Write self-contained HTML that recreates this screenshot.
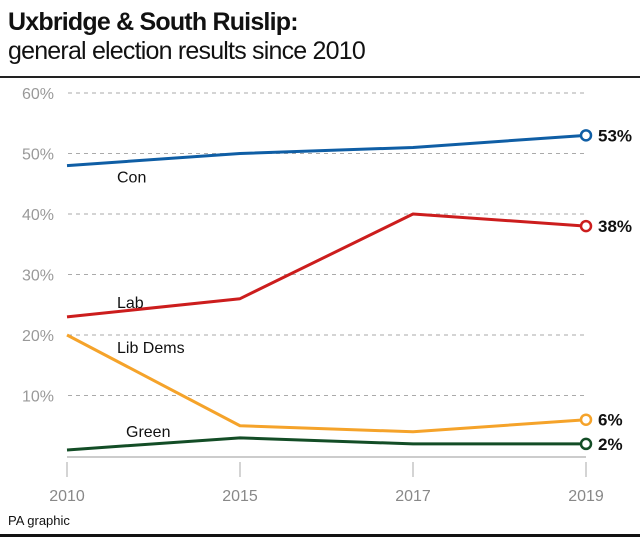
<!DOCTYPE html>
<html><head><meta charset="utf-8"><style>
body{margin:0;background:#fff;width:640px;height:538px;overflow:hidden;font-family:"Liberation Sans",sans-serif}
</style></head><body>
<svg width="640" height="538" viewBox="0 0 640 538">
<text x="8" y="30" font-size="25" font-weight="bold" fill="#111" letter-spacing="-0.8">Uxbridge &amp; South Ruislip:</text>
<text x="8" y="59" font-size="25" fill="#111" letter-spacing="-0.8">general election results since 2010</text>
<rect x="0" y="76" width="640" height="2" fill="#222"/>
<g id="grid"></g><g id="lines"></g>
<text x="8" y="525" font-size="13" fill="#111">PA graphic</text>
<rect x="0" y="534" width="640" height="3" fill="#111"/>
</svg>
<script>
const years=["2010","2015","2017","2019"];
const yTicks=[10,20,30,40,50,60];
const con=[48,50,51,53];
const lab=[23,26,40,38];
const libdem=[20,5,4,6];
const green=[1,3,2,2];
const NS="http://www.w3.org/2000/svg";
const x=i=>67+i*173;
const y=v=>456-v*6.05;
function mk(t,a,p){const e=document.createElementNS(NS,t);for(const k in a)e.setAttribute(k,a[k]);p.appendChild(e);return e;}
const g=document.getElementById('grid'),L=document.getElementById('lines');
yTicks.forEach(v=>{
 const l=mk('line',{x1:68,x2:586,y1:y(v),y2:y(v),stroke:'#aaa','stroke-dasharray':'4 4','stroke-width':1},g);
 
 
 const t=mk('text',{x:54,y:y(v)+6,'text-anchor':'end','font-size':16,fill:'#999'},g);t.textContent=v+'%';
 
 
});
const base=mk('line',{x1:67,x2:586,y1:y(0)+1,y2:y(0)+1,stroke:'#bbb','stroke-width':1.5},g);


years.forEach((yr,i)=>{
 const tk=mk('line',{x1:x(i),x2:x(i),y1:462,y2:477,stroke:'#aaa'},g);
 
 
 const t=mk('text',{x:x(i),y:501,'text-anchor':'middle','font-size':16,fill:'#888'},g);t.textContent=yr;
 
 
});
const series=[
 {n:'con',d:con,c:'#0f5ea5',lab:'Con',lx:117,ly:y(con[0])+17},
 {n:'lab',d:lab,c:'#cc1d1d',lab:'Lab',lx:117,ly:y(lab[0])-9},
 {n:'libdem',d:libdem,c:'#f5a32a',lab:'Lib Dems',lx:117,ly:y(libdem[0])+18},
 {n:'green',d:green,c:'#134d26',lab:'Green',lx:126,ly:y(green[0])-13}
];
series.forEach(s=>{
 const p=mk('polyline',{points:s.d.map((v,i)=>x(i)+','+y(v)).join(' '),fill:'none',stroke:s.c,'stroke-width':3,'stroke-linejoin':'round'},L);
 
 
 const t=mk('text',{x:s.lx,y:s.ly,'font-size':16,fill:'#111'},L);t.textContent=s.lab;
 
 
 const li=s.d.length-1;
 const c=mk('circle',{cx:x(li),cy:y(s.d[li]),r:5,fill:'#fff',stroke:s.c,'stroke-width':2.5},L);
 
 
 const v=mk('text',{x:x(li)+12,y:y(s.d[li])+6,'font-size':17,'font-weight':'bold',fill:'#111'},L);v.textContent=s.d[li]+'%';
 
 
});
</script>
</body></html>
